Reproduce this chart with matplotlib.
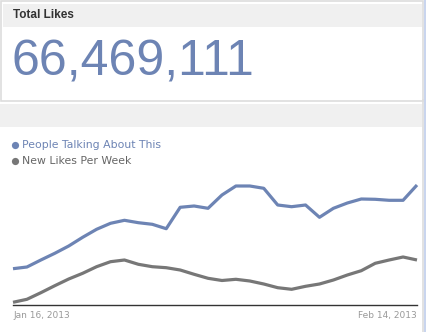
import matplotlib
matplotlib.use("Agg")
import matplotlib.pyplot as plt
from matplotlib.patches import Rectangle
import numpy as np

# Daily series, Jan 16 - Feb 14, 2013 (relative units)
days = list(range(30))
talking_about = [36.3, 38, 45, 51.7, 59, 67.7, 75.7, 81.7, 84.7, 82.3,
                 80.7, 76.3, 97.7, 99, 96.7, 110, 119, 119, 116.7, 100,
                 98.3, 100, 87.7, 96.7, 102, 106, 105.7, 104.7, 104.7, 120]
new_likes = [2.7, 5.7, 12.3, 19.3, 26, 31.7, 38.3, 43.3, 45, 40.7,
             38.3, 37.3, 35, 30.7, 26.7, 24.5, 25.7, 24, 21, 17.3,
             15.7, 18.7, 21, 25, 30, 34.3, 41.7, 45, 48, 45]
series_names = ["People Talking About This", "New Likes Per Week"]
x_labels = ["Jan 16, 2013", "Feb 14, 2013"]
title = "Total Likes"
total_likes = "66,469,111"

W, H = 426, 332
BLUE = "#6d84b4"
GREY = "#777777"
fig = plt.figure(figsize=(W / 100, H / 100), dpi=100)
fig.patch.set_facecolor("white")

# Page chrome drawn in pixel coordinates
bg = fig.add_axes([0, 0, 1, 1])
bg.set_xlim(0, W)
bg.set_ylim(H, 0)
bg.axis("off")

border = "#dddddd"
# top panel frame
bg.add_patch(Rectangle((0.5, 0.5), 422.5, 100, fill=False, ec=border, lw=1.2))
bg.add_patch(Rectangle((3, 4), 418.5, 23, fc="#f0f0f0", ec="none"))
# second panel header
bg.add_patch(Rectangle((0, 103.5), 421.5, 23.5, fc="#f0f0f0", ec="none"))
bg.plot([423, 423], [100, H], color=border, lw=1.2)
# window edge on the right
bg.add_patch(Rectangle((424, 0), 2, H, fc="#c9d5ee", ec="none"))

bg.text(13, 15.5, title, fontsize=8.5, fontweight="bold", color="#333333",
        family="Liberation Sans", va="center", ha="left")
bg.text(11.5, 62, total_likes, fontsize=36, color=BLUE,
        family="Liberation Sans", va="center", ha="left")

# legend
for yy, name, col, tcol in [(145, series_names[0], BLUE, BLUE),
                            (161, series_names[1], GREY, "#666666")]:
    bg.plot([15], [yy], "o", ms=5.2, color=col, mec="none")
    bg.text(21.5, yy, name, fontsize=7.8, color=tcol, family="DejaVu Sans",
            va="center", ha="left")

# line chart
left, right, bottom_px, top_px = 13, 417, 305, 135
ax = fig.add_axes([left / W, (H - bottom_px) / H, (right - left) / W,
                   (bottom_px - top_px) / H])
ax.set_facecolor("none")
ax.plot(days, talking_about, color=BLUE, lw=2.3, solid_joinstyle="round",
        solid_capstyle="butt", clip_on=False)
ax.plot(days, new_likes, color=GREY, lw=2.3, solid_joinstyle="round",
        solid_capstyle="butt", clip_on=False)
ax.set_xlim(days[0], days[-1])
ax.set_ylim(0, bottom_px - top_px)
for s in ["top", "left", "right"]:
    ax.spines[s].set_visible(False)
ax.spines["bottom"].set_color("#333333")
ax.spines["bottom"].set_linewidth(1.0)
ax.set_yticks([])
ax.set_xticks([])
ax.text(0, -10.5, x_labels[0], transform=ax.transData, fontsize=6.5,
        color="#999999", ha="left", va="center", family="DejaVu Sans")
ax.text(days[-1], -10.5, x_labels[1], transform=ax.transData, fontsize=6.5,
        color="#999999", ha="right", va="center", family="DejaVu Sans")

fig.savefig("out.png", dpi=100)
